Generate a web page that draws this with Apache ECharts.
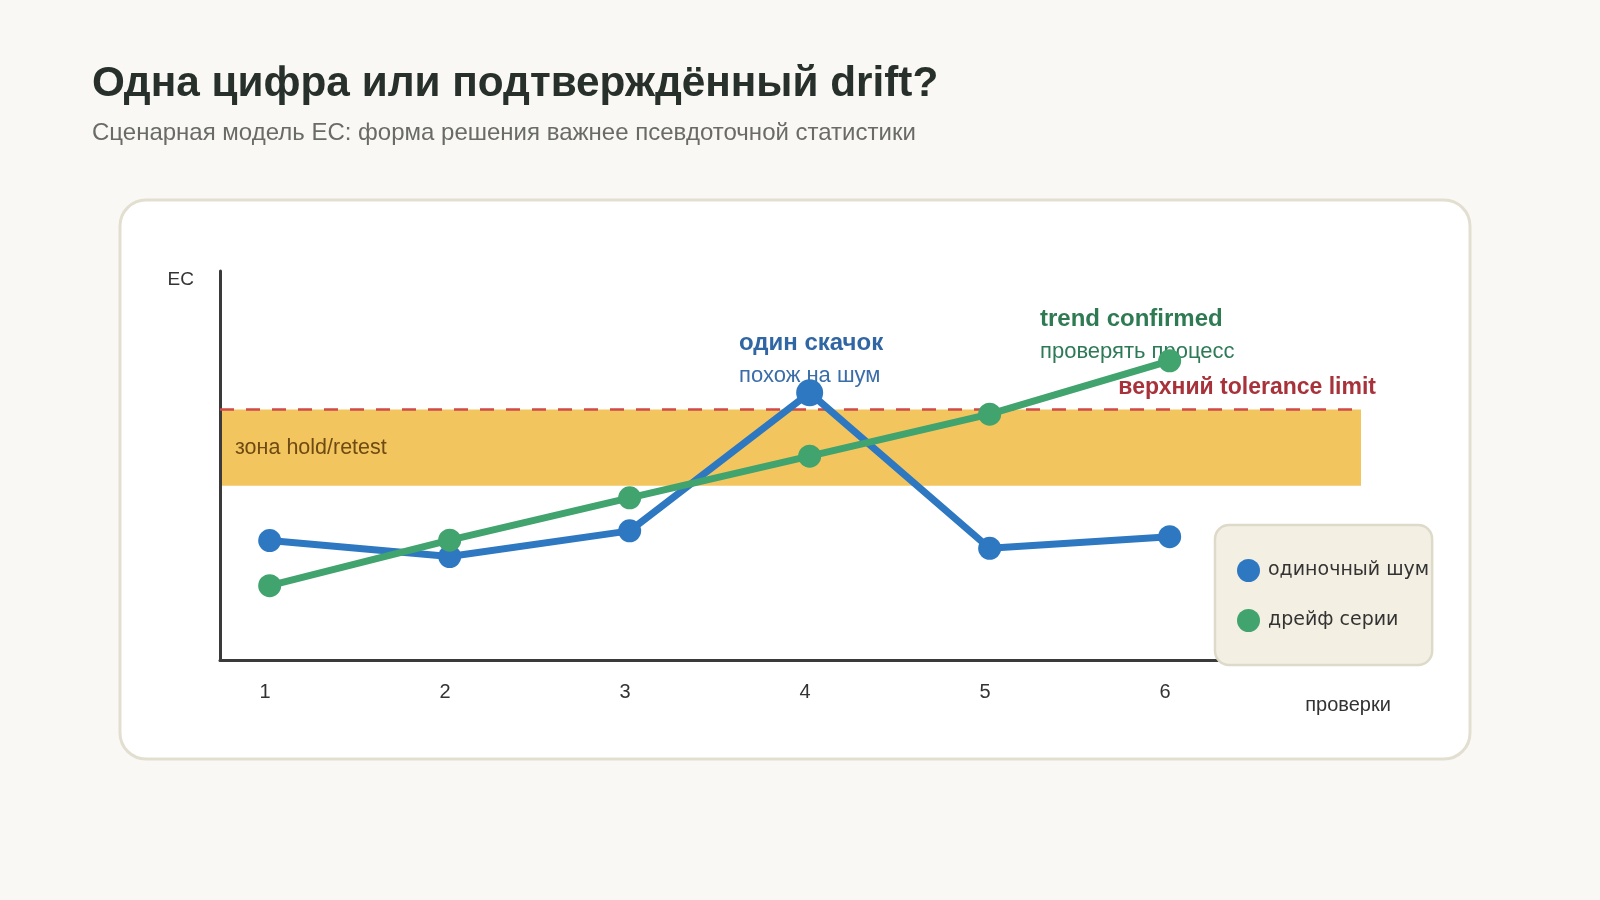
<!DOCTYPE html>
<html>
<head>
<meta charset="utf-8">
<title>EC drift</title>
<script src="https://cdn.jsdelivr.net/npm/echarts@6/dist/echarts.min.js"></script>
<style>
    html, body { margin: 0; padding: 0; background: #f9f8f4; }
    #chart { width: 1600px; height: 900px; }
</style>
</head>
<body>
<div id="chart"></div>
<script>
    // data (EC, arbitrary units)
    var checks = [1, 2, 3, 4, 5, 6];
    var noiseEC = [30.7, 26.6, 33.2, 68.7, 28.7, 31.7];
    var driftEC = [19.1, 30.8, 41.7, 52.4, 63.2, 76.9];
    var holdZone = [44.8, 64.4];
    var toleranceLimit = 64.4;
    var seriesNames = ['одиночный шум', 'дрейф серии'];

    var FONT = '"Liberation Sans", Arial, sans-serif';
    var BLUE = '#2e78c2', GREEN = '#41a36d';

    function pairs(vals) {
        return checks.map(function (c, i) { return [c, vals[i]]; });
    }
    // the peak of the noise series is drawn bigger
    var peakIdx = noiseEC.indexOf(Math.max.apply(null, noiseEC));

    var chart = echarts.init(document.getElementById('chart'));
    var option = {
        backgroundColor: '#f9f8f4',
        animation: false,
        title: {
            left: 87, top: 58,
            text: 'Одна цифра или подтверждённый drift?',
            subtext: 'Сценарная модель EC: форма решения важнее псевдоточной статистики',
            itemGap: 16,
            textStyle: { fontFamily: FONT, fontSize: 42.3, fontWeight: 'bold', color: '#27302b' },
            subtextStyle: { fontFamily: FONT, fontSize: 24, color: '#6a6a66' }
        },
        graphic: [
            {
                type: 'rect', z: -10,
                shape: { x: 120, y: 200, width: 1350, height: 559, r: 26 },
                style: { fill: '#ffffff', stroke: '#e2dfd1', lineWidth: 3 }
            },
            {
                type: 'text', x: 739, y: 343,
                style: { text: 'один скачок', font: 'bold 24px ' + FONT, fill: '#2f66a3', textVerticalAlign: 'middle' }
            },
            {
                type: 'text', x: 739, y: 376,
                style: { text: 'похож на шум', font: '22px ' + FONT, fill: '#3a6ea8', textVerticalAlign: 'middle' }
            },
            {
                type: 'text', x: 1040, y: 319,
                style: { text: 'trend confirmed', font: 'bold 24px ' + FONT, fill: '#2e7a52', textVerticalAlign: 'middle' }
            },
            {
                type: 'text', x: 1040, y: 352,
                style: { text: 'проверять процесс', font: '22px ' + FONT, fill: '#2e7a58', textVerticalAlign: 'middle' }
            }
        ],
        legend: {
            orient: 'vertical',
            left: 1215, top: 525,
            padding: [34, 3, 33, 22],
            itemWidth: 29, itemHeight: 23, itemGap: 27,
            icon: 'circle',
            selectedMode: false,
            backgroundColor: '#f3efe3',
            borderColor: '#dedac9',
            borderWidth: 2.5,
            borderRadius: 14,
            textStyle: { fontFamily: '"DejaVu Sans", sans-serif', fontSize: 19, color: '#333' },
            data: seriesNames
        },
        grid: { left: 220, top: 271, width: 1141, height: 389 },
        xAxis: {
            type: 'value',
            min: 0.724, max: 7.063,
            name: 'проверки',
            nameLocation: 'end',
            nameGap: -13,
            nameTextStyle: { fontFamily: FONT, fontSize: 20, color: '#333', align: 'center', verticalAlign: 'top', padding: [35, 0, 0, 0] },
            axisLine: { lineStyle: { color: '#3a3a3a', width: 3 } },
            axisTick: { show: false },
            splitLine: { show: false },
            axisLabel: {
                customValues: checks,
                margin: 22,
                fontFamily: FONT, fontSize: 20, color: '#333',
                padding: [0, 9, 0, 0]
            }
        },
        yAxis: {
            type: 'value',
            min: 0, max: 100,
            name: 'EC',
            nameLocation: 'end',
            nameGap: -9,
            nameTextStyle: { fontFamily: FONT, fontSize: 19, color: '#333', align: 'right', verticalAlign: 'middle', padding: [0, 26, 0, 0] },
            axisLine: { show: true, lineStyle: { color: '#3a3a3a', width: 3 } },
            axisTick: { show: false },
            axisLabel: { show: false },
            splitLine: { show: false }
        },
        series: [
            {
                name: seriesNames[0],
                type: 'line',
                data: pairs(noiseEC),
                color: BLUE,
                symbol: 'circle',
                symbolSize: function (v, p) { return p.dataIndex === peakIdx ? 27 : 23; },
                lineStyle: { width: 7 },
                emphasis: { disabled: true },
                markArea: {
                    silent: true,
                    z: 0,
                    itemStyle: { color: '#f3c55e' },
                    label: {
                        position: 'insideLeft', distance: 15,
                        fontFamily: FONT, fontSize: 21.5, color: '#6e4b14'
                    },
                    data: [[{ name: 'зона hold/retest', yAxis: holdZone[0] }, { yAxis: holdZone[1] }]]
                },
                markLine: {
                    silent: true,
                    z: 1,
                    symbol: ['none', 'none'],
                    lineStyle: { color: '#cf4a4a', type: [14, 12], width: 2.5 },
                    label: {
                        formatter: 'верхний tolerance limit',
                        position: 'insideEndTop',
                        distance: [-15, 10],
                        fontFamily: FONT, fontSize: 23, fontWeight: 'bold', color: '#a8323a'
                    },
                    data: [{ yAxis: toleranceLimit }]
                }
            },
            {
                name: seriesNames[1],
                type: 'line',
                data: pairs(driftEC),
                color: GREEN,
                symbol: 'circle',
                symbolSize: 23,
                lineStyle: { width: 7 },
                emphasis: { disabled: true }
            }
        ]
    };
    chart.setOption(option);
</script>
</body>
</html>
